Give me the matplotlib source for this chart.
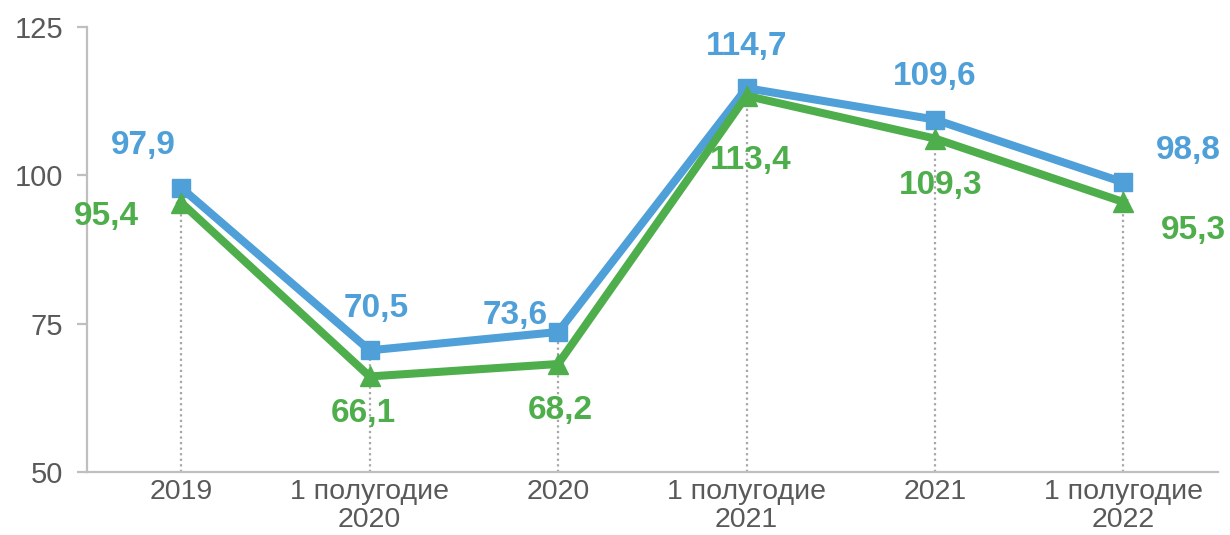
import matplotlib.pyplot as plt

plt.rcParams['font.family'] = ['Liberation Sans', 'DejaVu Sans']

categories = ["2019", "1 полугодие\n2020", "2020", "1 полугодие\n2021", "2021", "1 полугодие\n2022"]
# plotted positions
blue_vals = [97.9, 70.5, 73.6, 114.7, 109.4, 98.8]
green_vals = [95.4, 66.1, 68.2, 113.4, 106.2, 95.5]
# data labels as printed
blue_labels = ["97,9", "70,5", "73,6", "114,7", "109,6", "98,8"]
green_labels = ["95,4", "66,1", "68,2", "113,4", "109,3", "95,3"]

# label offsets in pixels (dx, dy) relative to each point
blue_off = [(-38, 42), (7, 42), (-43, 16), (0, 42), (0, 43), (65, 32)]
green_off = [(-75, -14), (-6, -37), (2, -46), (4, -65), (6, -47), (70, -28)]

blue = "#4F9FD8"
green = "#4EAE4C"
grey_txt = "#595959"
axis_col = "#BFBFBF"

fig = plt.figure(figsize=(12.3, 5.35), dpi=100)
ax = fig.add_axes([0.0707, 0.1178, 0.9193, 0.8317])

x = list(range(len(categories)))

# drop lines
for xi, b, g in zip(x, blue_vals, green_vals):
    ax.plot([xi, xi], [50, max(b, g)], ls=(0, (1, 1.5)), color="#A6A6A6", lw=1.6, zorder=1)

ax.plot(x, blue_vals, color=blue, lw=5.8, marker="s", markersize=13, zorder=3)
ax.plot(x, green_vals, color=green, lw=5.8, marker="^", markersize=14, zorder=4)

for xi, v, t, off in zip(x, blue_vals, blue_labels, blue_off):
    ax.annotate(t, (xi, v), xytext=off, textcoords="offset pixels",
                ha="center", va="center", fontsize=24, fontweight="bold", color=blue, zorder=5)
for xi, v, t, off in zip(x, green_vals, green_labels, green_off):
    ax.annotate(t, (xi, v), xytext=off, textcoords="offset pixels",
                ha="center", va="center", fontsize=24, fontweight="bold", color=green, zorder=5)

ax.set_xlim(-0.5, 5.5)
ax.set_ylim(50, 125)
ax.set_yticks([50, 75, 100, 125])
ax.set_xticks(x)
ax.set_xticklabels(categories)

for s in ["top", "right"]:
    ax.spines[s].set_visible(False)
for s in ["left", "bottom"]:
    ax.spines[s].set_color(axis_col)
    ax.spines[s].set_linewidth(1.6)

ax.tick_params(axis="y", length=7, width=1.6, color=axis_col, labelsize=21, labelcolor=grey_txt, pad=10)
ax.tick_params(axis="x", length=0, labelsize=20.5, labelcolor=grey_txt, pad=5)
for lbl in ax.get_xticklabels():
    lbl.set_linespacing(1.08)

fig.savefig("out.png", dpi=100)
